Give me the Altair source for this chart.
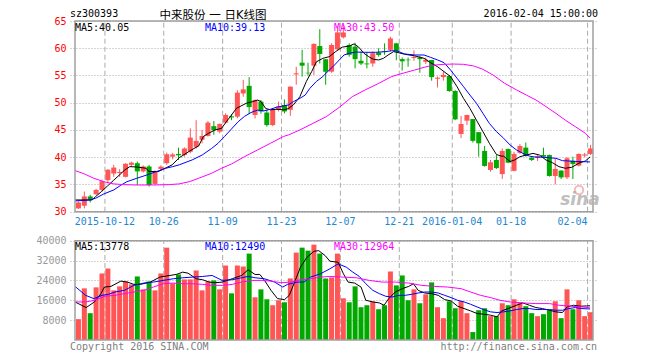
import altair as alt
import pandas as pd

# ---------------- data ----------------
dates = ["2015-09-28", "2015-09-29", "2015-09-30", "2015-10-08", "2015-10-09",
         "2015-10-12", "2015-10-13", "2015-10-14", "2015-10-15", "2015-10-16",
         "2015-10-19", "2015-10-20", "2015-10-21", "2015-10-22", "2015-10-23",
         "2015-10-26", "2015-10-27", "2015-10-28", "2015-10-29", "2015-10-30",
         "2015-11-02", "2015-11-03", "2015-11-04", "2015-11-05", "2015-11-06",
         "2015-11-09", "2015-11-10", "2015-11-11", "2015-11-12", "2015-11-13",
         "2015-11-16", "2015-11-17", "2015-11-18", "2015-11-19", "2015-11-20",
         "2015-11-23", "2015-11-24", "2015-11-25", "2015-11-26", "2015-11-27",
         "2015-11-30", "2015-12-01", "2015-12-02", "2015-12-03", "2015-12-04",
         "2015-12-07", "2015-12-08", "2015-12-09", "2015-12-10", "2015-12-11",
         "2015-12-14", "2015-12-15", "2015-12-16", "2015-12-17", "2015-12-18",
         "2015-12-21", "2015-12-22", "2015-12-23", "2015-12-24", "2015-12-25",
         "2015-12-28", "2015-12-29", "2015-12-30", "2015-12-31",
         "2016-01-04", "2016-01-05", "2016-01-06", "2016-01-07", "2016-01-08",
         "2016-01-11", "2016-01-12", "2016-01-13", "2016-01-14", "2016-01-15",
         "2016-01-18", "2016-01-19", "2016-01-20", "2016-01-21", "2016-01-22",
         "2016-01-25", "2016-01-26", "2016-01-27", "2016-01-28", "2016-01-29",
         "2016-02-01", "2016-02-02", "2016-02-03", "2016-02-04"]

opens = [30.6, 31.1, 32.8, 33.2, 34.0, 35.8, 37.0, 37.1, 36.4, 38.6,
         38.9, 37.4, 38.3, 35.1, 37.85, 38.9, 40.1, 40.6, 40.4, 41.0,
         41.9, 43.2, 43.9, 45.7, 44.7, 46.35, 47.5, 47.45, 51.7, 53.1,
         47.75, 50.2, 48.2, 45.9, 48.7, 49.6, 48.7, 55.2, 57.35, 55.5,
         56.8, 60.4, 58.0, 55.7, 59.8, 62.0, 60.6, 60.3, 57.7, 57.2,
         57.2, 59.2, 59.4, 59.7, 60.9, 58.0, 57.9, 58.2, 58.3, 57.5,
         57.85, 54.4, 54.7, 54.9, 52.15, 44.27, 46.7, 47.0, 44.6, 41.15,
         37.66, 39.5, 36.9, 41.5, 37.5, 40.8, 41.76, 39.9, 40.0, 40.4,
         40.4, 36.56, 37.54, 36.3, 39.37, 38.45, 40.3, 40.6]
highs = [31.9, 33.7, 33.1, 34.2, 35.9, 37.8, 38.6, 37.8, 38.9, 39.2,
         39.2, 38.5, 38.6, 37.6, 38.5, 40.84, 40.8, 41.76, 41.8, 45.3,
         46.8, 45.0, 46.65, 46.65, 46.2, 48.05, 47.9, 52.3, 54.2, 54.7,
         50.6, 50.5, 48.7, 49.0, 50.2, 50.6, 53.0, 56.6, 59.7, 57.35,
         60.9, 63.5, 58.0, 60.9, 64.0, 64.3, 60.9, 61.0, 59.4, 59.2,
         59.4, 60.0, 60.9, 62.1, 61.0, 58.3, 58.3, 59.6, 58.6, 58.3,
         57.85, 54.8, 55.7, 55.1, 52.3, 47.57, 47.8, 47.0, 44.6, 42.06,
         39.5, 40.4, 41.6, 41.6, 41.0, 42.4, 42.7, 40.1, 40.4, 41.76,
         40.5, 39.8, 37.6, 40.0, 40.1, 40.7, 40.8, 42.25]
lows = [30.5, 30.6, 31.7, 33.1, 33.7, 35.2, 36.4, 36.4, 36.3, 38.3,
        34.9, 37.2, 34.6, 35.0, 37.6, 38.6, 39.6, 39.5, 40.1, 40.7,
        41.6, 42.55, 43.8, 44.1, 44.4, 46.2, 46.8, 47.15, 51.1, 47.9,
        47.1, 48.0, 45.6, 45.7, 48.4, 48.05, 47.6, 53.3, 54.8, 55.0,
        55.1, 57.2, 53.3, 55.5, 59.7, 61.8, 58.45, 56.3, 56.9, 56.3,
        56.6, 58.45, 58.8, 59.4, 57.8, 55.9, 56.6, 57.7, 55.5, 57.1,
        54.05, 52.8, 54.05, 52.0, 46.8, 43.5, 45.9, 42.7, 40.1, 38.27,
        37.35, 37.85, 36.0, 38.9, 37.4, 40.6, 40.1, 39.3, 39.3, 39.98,
        36.44, 35.03, 36.0, 36.0, 36.0, 38.3, 40.0, 40.4]
closes = [31.7, 32.8, 32.2, 34.0, 35.6, 37.7, 38.1, 37.3, 38.8, 39.0,
          37.4, 38.3, 34.9, 37.35, 38.27, 40.54, 40.5, 40.35, 41.6, 43.6,
          43.0, 43.9, 46.35, 45.0, 46.1, 47.75, 47.3, 51.85, 52.45, 49.2,
          50.5, 48.4, 45.9, 48.8, 49.3, 48.4, 52.95, 55.4, 56.8, 55.4,
          60.8, 58.95, 55.7, 60.6, 62.9, 62.9, 58.8, 58.0, 57.2, 57.05,
          59.1, 58.75, 59.3, 61.8, 59.4, 57.6, 57.8, 58.4, 58.0, 57.9,
          54.7, 54.6, 55.1, 52.15, 46.95, 46.1, 47.75, 43.0, 42.55, 38.4,
          39.07, 38.0, 41.15, 39.0, 40.6, 42.06, 40.23, 39.5, 40.2, 40.1,
          36.56, 37.85, 36.3, 39.8, 38.76, 40.6, 40.5, 41.6]
volumes = [8400, 20800, 10800, 21200, 26800, 28800, 20000, 21600, 23600, 22400,
           25600, 20400, 23600, 20000, 26800, 37200, 22800, 26400, 24400, 24400,
           28000, 20000, 23600, 24000, 20400, 30000, 18800, 30000, 29600, 34800,
           17200, 20400, 16400, 14000, 16000, 15200, 24800, 35200, 37200, 36000,
           38400, 34800, 24800, 25200, 34800, 16800, 15200, 21600, 13200, 14000,
           15500, 12400, 14000, 27600, 22000, 26000, 16000, 20400, 14800, 18400,
           23200, 13200, 8800, 15600, 12800, 15700, 10800, 3200, 12000, 12800,
           9600, 9600, 14800, 14000, 16400, 15200, 13600, 10800, 9600, 10400,
           12000, 15600, 8800, 20400, 12400, 16000, 9600, 11200]

# moving-average curves: (trading-day position, value)
ma5 = [(-0.5, 32.15), (2.4, 32.15), (3.0, 32.77), (4.0, 33.7), (5.0, 34.7), (6.0, 35.7),
       (7.0, 36.7), (8.0, 37.7), (8.8, 38.27), (10.0, 38.2), (11.6, 37.97), (12.0, 37.4),
       (13.6, 37.35), (14.5, 37.8), (16.0, 38.6), (17.2, 39.9), (18.8, 41.0), (19.7, 41.6),
       (20.5, 42.06), (21.3, 43.8), (22.2, 44.4), (23.3, 45.0), (24.4, 45.3), (25.2, 46.5),
       (26.1, 47.75), (26.9, 48.95), (27.7, 49.4), (28.6, 49.9), (29.7, 50.2), (30.5, 50.5),
       (31.1, 50.2), (31.9, 48.95), (32.7, 48.7), (33.8, 48.8), (34.9, 48.7), (35.7, 48.9),
       (36.6, 49.6), (37.7, 51.1), (38.8, 53.9), (39.7, 55.7), (40.5, 57.5), (41.6, 58.15),
       (42.7, 58.45), (43.8, 59.4), (44.9, 60.2), (46.1, 60.4), (46.9, 60.8), (47.7, 60.2),
       (48.6, 59.07), (49.4, 58.45), (50.2, 57.97), (51.1, 57.85), (51.9, 58.15), (52.7, 58.76),
       (53.6, 59.37), (54.0, 59.3), (55.5, 58.9), (57.2, 58.6), (58.8, 58.15), (59.9, 57.35),
       (61.1, 56.6), (62.2, 55.7), (63.3, 54.8), (64.4, 52.95), (65.5, 50.8), (66.6, 48.95),
       (67.7, 46.8), (68.8, 44.7), (69.9, 42.55), (71.1, 40.5), (71.9, 40.2), (72.3, 40.2),
       (73.4, 39.2), (74.2, 39.5), (75.1, 40.1), (76.2, 40.4), (77.3, 40.7), (78.4, 40.4),
       (79.5, 39.5), (80.6, 39.0), (81.7, 38.27), (82.8, 37.97), (83.9, 38.15), (85.1, 38.9),
       (86.2, 39.3), (87.0, 40.05)]
ma10 = [(-0.5, 31.97), (1.9, 32.15), (3.0, 32.46), (4.4, 33.26), (6.1, 34.0), (7.2, 34.8),
        (8.3, 35.5), (9.9, 36.1), (11.6, 36.7), (13.3, 37.35), (14.9, 37.97), (16.1, 38.27),
        (17.2, 38.6), (19.4, 39.5), (21.1, 40.4), (22.7, 41.6), (23.8, 42.55), (24.9, 43.8),
        (26.1, 45.2), (27.2, 46.5), (28.3, 47.5), (29.4, 48.2), (30.5, 48.65), (31.6, 48.5),
        (32.7, 48.8), (33.8, 49.2), (34.9, 49.4), (35.8, 49.6), (36.6, 50.2), (37.7, 50.8),
        (38.6, 51.4), (39.4, 52.65), (40.5, 53.9), (41.6, 54.8), (42.4, 55.7), (43.3, 56.6),
        (44.4, 57.85), (45.2, 58.76), (46.1, 59.07), (47.2, 59.3), (48.8, 59.25), (50.5, 59.25),
        (52.2, 59.37), (53.3, 59.55), (54.2, 59.5), (55.5, 58.95), (57.2, 58.76), (58.8, 58.76),
        (59.9, 58.33), (61.1, 57.85), (62.2, 57.35), (63.3, 56.0), (64.4, 54.5), (65.5, 52.95),
        (66.6, 51.4), (67.7, 49.9), (68.8, 48.05), (69.9, 46.2), (71.1, 44.7), (72.3, 43.5),
        (73.4, 42.25), (74.5, 41.33), (75.6, 40.7), (76.7, 40.2), (77.8, 40.0), (78.9, 40.0),
        (80.1, 39.9), (81.2, 39.8), (82.3, 39.37), (83.4, 39.3), (84.5, 39.2), (85.6, 39.2),
        (87.0, 39.13)]
ma30 = [(-0.5, 37.55), (1.1, 36.93), (2.7, 36.13), (4.4, 35.5), (6.1, 35.1), (7.7, 34.97),
        (9.9, 34.9), (12.7, 34.9), (15.5, 34.97), (17.2, 35.1), (18.9, 35.5), (20.5, 36.13),
        (22.7, 37.05), (24.4, 37.97), (26.1, 38.76), (28.3, 40.1), (30.5, 41.33), (32.7, 42.55),
        (34.9, 43.8), (35.8, 44.1), (37.7, 45.0), (39.9, 46.2), (42.2, 47.45), (44.4, 49.15),
        (46.6, 51.1), (48.8, 52.35), (51.1, 53.56), (53.3, 54.8), (54.2, 55.1), (55.5, 55.5),
        (57.2, 56.0), (58.8, 56.5), (60.5, 56.9), (62.2, 57.05), (63.8, 57.1), (65.5, 57.05),
        (67.2, 56.75), (68.8, 56.13), (70.5, 55.1), (72.5, 53.56), (74.5, 52.35), (76.2, 51.4),
        (77.8, 50.5), (79.5, 49.3), (81.2, 48.05), (82.8, 46.8), (84.5, 45.6), (86.2, 44.4),
        (87.0, 43.5)]
vma5 = [(-0.5, 15330), (1.4, 13070), (2.8, 15330), (3.9, 18670), (4.5, 21330), (5.6, 21600),
        (7.3, 23730), (8.4, 23330), (9.5, 22400), (10.6, 22400), (12.3, 23330), (13.9, 25330),
        (15.6, 26000), (16.7, 26400), (17.8, 27330), (18.7, 26930), (20.1, 24670), (21.2, 24270),
        (22.3, 23330), (23.4, 23070), (24.5, 23330), (26.2, 24670), (27.8, 26000), (28.9, 28270),
        (30.1, 26400), (30.9, 26400), (31.7, 24000), (32.8, 20000), (33.9, 16670), (35.1, 16270),
        (35.9, 18000), (36.7, 22670), (37.8, 29330), (38.9, 33330), (40.1, 35730), (40.9, 36000),
        (42.0, 34000), (42.8, 31730), (44.2, 31330), (45.1, 26670), (45.9, 23330), (47.0, 22930),
        (48.1, 21330), (48.9, 16000), (50.1, 15330), (51.2, 14930), (52.0, 14000), (52.8, 16670),
        (53.9, 19330), (55.1, 20670), (56.2, 21600), (57.0, 22670), (57.8, 20000), (58.9, 18930),
        (60.1, 18670), (61.2, 18000), (62.3, 16270), (63.4, 15730), (64.5, 13600), (65.6, 12670),
        (66.7, 11730), (67.8, 10670), (68.9, 10400), (70.1, 10000), (71.2, 9330), (72.0, 11730),
        (73.1, 12670), (74.5, 14000), (75.6, 14930), (76.7, 14000), (77.8, 13070), (78.9, 12670),
        (80.1, 12000), (81.2, 11330), (82.3, 11070), (83.1, 13330), (84.2, 14000), (85.3, 13600),
        (86.4, 13730), (87.0, 13778)]
vma10 = [(-0.5, 21600), (1.3, 18000), (2.7, 16670), (4.1, 18000), (5.2, 18400), (6.3, 19330),
         (7.9, 20000), (9.5, 22000), (11.2, 22930), (12.8, 23330), (14.5, 24000), (16.2, 24670),
         (17.8, 25070), (19.5, 25330), (21.2, 25600), (22.8, 26000), (24.5, 24000), (26.2, 24270),
         (27.8, 25070), (28.9, 25600), (30.1, 25070), (31.7, 24670), (33.4, 23330), (34.8, 21330),
         (35.6, 22400), (37.3, 23330), (38.4, 23330), (39.5, 25330), (41.2, 26670), (42.8, 28670),
         (44.2, 30670), (45.6, 29330), (46.7, 27330), (47.8, 25600), (48.9, 22670), (50.1, 20000),
         (51.2, 18670), (52.3, 17600), (53.4, 17330), (54.5, 18000), (55.6, 18000), (56.7, 18400),
         (57.8, 18930), (58.9, 19330), (60.1, 19330), (61.2, 18930), (62.3, 18000), (63.4, 17070),
         (64.5, 16000), (65.6, 15330), (66.7, 14400), (67.8, 13330), (68.9, 12270), (70.1, 11330),
         (71.2, 11070), (72.3, 11330), (73.4, 11730), (74.5, 12270), (75.6, 12670), (76.7, 12670),
         (77.8, 12270), (78.9, 12270), (80.1, 12270), (81.2, 12000), (82.3, 12000), (83.4, 12670),
         (84.5, 13070), (85.6, 12670), (87.0, 12490)]
vma30 = [(-0.5, 15330), (1.3, 15330), (2.9, 16000), (4.5, 17600), (6.3, 18000), (7.9, 18670),
         (9.5, 19330), (11.2, 20000), (12.8, 21330), (14.5, 22670), (16.2, 22930), (17.8, 22670),
         (19.5, 22670), (21.2, 22400), (22.8, 22000), (24.5, 22000), (26.2, 22400), (27.8, 23330),
         (29.5, 24000), (31.2, 24000), (32.8, 23730), (34.5, 23070), (36.2, 23330), (37.8, 24270),
         (39.5, 24670), (41.2, 25330), (42.8, 25600), (45.1, 25330), (47.3, 25070), (49.5, 24000),
         (51.7, 23330), (53.9, 23330), (56.2, 22930), (58.4, 22000), (60.6, 21600), (62.8, 21330),
         (65.1, 20670), (66.7, 19330), (68.4, 18000), (70.1, 17070), (71.7, 16000), (73.4, 15330),
         (75.6, 14930), (77.8, 14670), (80.1, 14670), (81.7, 14000), (83.9, 13600), (85.6, 13330),
         (87.0, 12964)]

label_dates = ["2015-10-12", "2015-10-26", "2015-11-09", "2015-11-23", "2015-12-07",
               "2015-12-21", "2016-01-04", "2016-01-18", "2016-02-04"]
label_texts = ["2015-10-12", "10-26", "11-09", "11-23", "12-07", "12-21",
               "2016-01-04", "01-18", "02-04"]
price_ticks = [30, 35, 40, 45, 50, 55, 60, 65]
volume_ticks = [8000, 16000, 24000, 32000, 40000]
header_texts = ["sz300393", "中来股份 一 日K线图", "2016-02-04 15:00:00"]
price_legend = ["MA5:40.05", "MA10:39.13", "MA30:43.50"]
volume_legend = ["MA5:13778", "MA10:12490", "MA30:12964"]
footer_texts = ["Copyright 2016 SINA.COM", "http://finance.sina.com.cn"]
watermark = "sina"

# ---------------- styling ----------------
RED = "#ff5555"
GREEN = "#00a800"
MA_COLORS = ["#000000", "#0000ff", "#ff00ff"]
GRID = "#aaaaaa"
FRAME = "#a0a0a0"
DATE_BLUE = "#1e88d2"
MONO = "DejaVu Sans Mono"
TITLE_FONT = "DejaVu Sans, Noto Sans CJK SC"
W, H = 528, 319

n = len(dates)
candles = pd.DataFrame({"idx": list(range(n)), "date": dates, "open": opens, "high": highs,
                        "low": lows, "close": closes, "volume": volumes})
candles["dir"] = ["up" if c >= o else "down" for o, c in zip(opens, closes)]

tick_pos = [dates.index(d) - 0.5 for d in label_dates]
label_expr = ("[" + ",".join("'%s'" % t for t in label_texts) + "][indexof(["
              + ",".join(str(p) for p in tick_pos) + "], datum.value)]")

X_SCALE = alt.Scale(domain=[-0.5, n - 0.5], nice=False, zero=False)
P_SCALE = alt.Scale(domain=[6.45, 65], nice=False, zero=False)
V_SCALE = alt.Scale(domain=[0, 128500], nice=False, zero=False)

x_axis = alt.Axis(values=tick_pos, labelExpr=label_expr, grid=False, ticks=False, domain=False,
                  offset=-128, labelColor=DATE_BLUE, labelFont=MONO, labelFontSize=10,
                  labelPadding=4, labelFlush=False, labelOverlap=False,
                  labelAlign={"condition": {"test": "datum.value == %s" % tick_pos[-1],
                                            "value": "right"}, "value": "center"},
                  title=None)
p_axis = alt.Axis(values=price_ticks, format="d", orient="left", labelColor="#ff0000",
                  labelFont=MONO, labelFontSize=10, labelPadding=4, ticks=False, domain=False,
                  grid=True, gridColor=GRID, gridDash=[1, 2], gridWidth=1, title=None,
                  labelOverlap=False, labelFlush=False)
v_axis = alt.Axis(values=volume_ticks, format="d", orient="left", labelColor="#999999",
                  labelFont=MONO, labelFontSize=10, labelPadding=4, ticks=False, domain=False,
                  grid=True, gridColor=GRID, gridDash=[1, 2], gridWidth=1, title=None,
                  labelOverlap=False, labelFlush=False)


def X(field):
    return alt.X(field, type="quantitative", scale=X_SCALE, axis=x_axis, title=None)


def YP(field):
    return alt.Y(field, type="quantitative", scale=P_SCALE, axis=p_axis, title=None)


def YV(field):
    return alt.Y(field, type="quantitative", scale=V_SCALE, axis=v_axis, title=None, stack=None)


dir_color = alt.Color("dir:N", scale=alt.Scale(domain=["up", "down"], range=[RED, GREEN]),
                      legend=None)
one = alt.Data(values=[{}])
grid_df = pd.DataFrame({"pos": tick_pos})

# ---------------- price panel ----------------
p_vgrid = alt.Chart(grid_df).mark_rule(color=GRID, strokeDash=[5, 3], strokeWidth=1,
                                       xOffset=0.5).encode(
    x=X("pos"),
    y=alt.YDatum(price_ticks[0], type="quantitative", scale=P_SCALE, axis=p_axis),
    y2=alt.Y2Datum(price_ticks[-1]))
wicks = alt.Chart(candles).mark_rule(strokeWidth=1, xOffset=0.5).encode(
    x=X("idx"), y=YP("low"), y2=alt.Y2("high"), color=dir_color)
bodies = alt.Chart(candles).mark_bar(size=5, xOffset=0.5).encode(
    x=X("idx"), y=YP("open"), y2=alt.Y2("close"), color=dir_color)
p_lines = []
for series, col in zip([ma5, ma10, ma30], MA_COLORS):
    df = pd.DataFrame(series, columns=["pos", "val"])
    p_lines.append(alt.Chart(df).mark_line(color=col, strokeWidth=1).encode(
        x=X("pos"), y=YP("val")))
p_frame = alt.Chart(one).mark_rect(fill="transparent", stroke=FRAME, strokeWidth=1.5).encode(
    x=alt.XDatum(-0.5, type="quantitative", scale=X_SCALE, axis=x_axis),
    x2=alt.X2Datum(n - 0.5),
    y=alt.YDatum(price_ticks[0], type="quantitative", scale=P_SCALE, axis=p_axis),
    y2=alt.Y2Datum(price_ticks[-1]))
price = alt.layer(p_vgrid, wicks, bodies, *p_lines, p_frame)

# ---------------- volume panel ----------------
v_vgrid = alt.Chart(grid_df).mark_rule(color=GRID, strokeDash=[5, 3], strokeWidth=1,
                                       xOffset=0.5).encode(
    x=X("pos"),
    y=alt.YDatum(0, type="quantitative", scale=V_SCALE, axis=v_axis),
    y2=alt.Y2Datum(volume_ticks[-1]))
vbars = alt.Chart(candles).mark_bar(size=5, xOffset=0.5).encode(
    x=X("idx"), y=YV("volume"), y2=alt.Y2Datum(0), color=dir_color)
v_lines = []
for series, col in zip([vma5, vma10, vma30], MA_COLORS):
    df = pd.DataFrame(series, columns=["pos", "val"])
    v_lines.append(alt.Chart(df).mark_line(color=col, strokeWidth=1).encode(
        x=X("pos"), y=YV("val")))
v_frame = alt.Chart(one).mark_rect(fill="transparent", stroke=FRAME, strokeWidth=1.5).encode(
    x=alt.XDatum(-0.5, type="quantitative", scale=X_SCALE, axis=x_axis),
    x2=alt.X2Datum(n - 0.5),
    y=alt.YDatum(0, type="quantitative", scale=V_SCALE, axis=v_axis),
    y2=alt.Y2Datum(volume_ticks[-1]))
volume = alt.layer(v_vgrid, vbars, *v_lines, v_frame)


# ---------------- texts ----------------
def txt(text, x, y, color="#000000", align="left", font=MONO, size=10, **kw):
    return alt.Chart(one).mark_text(x=x, y=y, align=align, baseline="alphabetic", color=color,
                                    font=font, fontSize=size, **kw).encode(text=alt.value(text))


texts = [
    txt(header_texts[0], 0, -4),
    txt(header_texts[1], 143, -2.2, font=TITLE_FONT, size=11.5, align="center"),
    txt(header_texts[2], W, -4, align="right"),
    txt(price_legend[0], 5, 9.9, color=MA_COLORS[0]),
    txt(price_legend[1], 135, 9.9, color=MA_COLORS[1]),
    txt(price_legend[2], 264, 9.9, color=MA_COLORS[2]),
    txt(volume_legend[0], 5, 228.5, color=MA_COLORS[0]),
    txt(volume_legend[1], 135, 228.5, color=MA_COLORS[1]),
    txt(volume_legend[2], 264, 228.5, color=MA_COLORS[2]),
    txt(footer_texts[0], 0, 329, color="#808080"),
    txt(footer_texts[1], W - 1, 329, color="#808080", align="right"),
    txt(watermark, 510, 184, color="#b0b0b0", align="center", font="DejaVu Sans", size=17,
        fontStyle="italic", fontWeight="bold", opacity=0.8),
]
logo = alt.Chart(one).mark_point(x=509, y=169, shape="circle", size=70, filled=False,
                                 color="#f08c8c", strokeWidth=2, opacity=0.6).encode(
    opacity=alt.value(0.6))

chart = alt.layer(price, volume, logo, *texts).resolve_scale(y="independent").properties(
    width=W, height=H,
    autosize=alt.AutoSizeParams(type="none"),
    padding={"left": 62, "top": 13, "right": 54, "bottom": 12},
).configure_view(stroke=None)

chart.save("out.html", embed_options={"renderer": "svg", "actions": False})
